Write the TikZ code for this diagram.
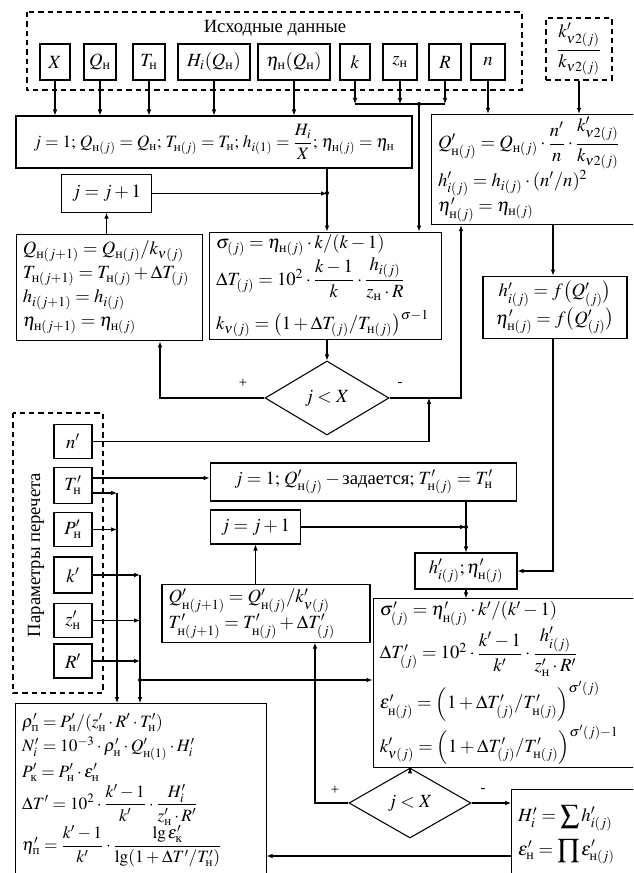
\documentclass[tikz,border=0pt]{standalone}
\usepackage{amsmath}
\usepackage{mathptmx}
\usepackage{fontspec}
\setmainfont{Liberation Serif}
\usetikzlibrary{arrows.meta,shapes.geometric,calc}
\newcommand{\hn}{\text{н}}
\newcommand{\hp}{\text{п}}
\newcommand{\hk}{\text{к}}
\tikzset{
  every node/.style={font=\fontsize{14}{17}\selectfont},
  box/.style={draw, line width=0.8pt, inner sep=2pt, align=center},
  sz/.style 2 args={minimum width=#1, minimum height=#2},
  lbox/.style={draw, line width=0.8pt, inner xsep=5pt, inner ysep=2pt, align=left},
  dbox/.style={draw, line width=0.9pt, dash pattern=on 4pt off 3pt},
  arr/.style={line width=0.8pt, -{Latex[length=4.5pt,width=3.5pt]}},
  ln/.style={line width=0.8pt},
  dec/.style={draw, diamond, line width=0.8pt, inner sep=0pt},
  sgn/.style={font=\fontsize{11}{13}\selectfont},
  small/.style={font=\fontsize{13}{15.5}\selectfont},
  jdot/.style={circle, fill, inner sep=0pt, minimum size=3pt}
}
\begin{document}
\begin{tikzpicture}[x=0.75pt,y=-0.75pt]
\useasboundingbox (0,0) rectangle (633,873);
\clip (0,0) rectangle (633,873);
\fill[white] (0,0) rectangle (633,873);

% ---------- source data ----------
\draw[dbox] (27,12) rectangle (522,90);
\node (title) at (275,28) {Исходные данные};
\node[box, sz={22.5pt}{27pt}] (bX) at (55,62) {$X$};
\node[box, sz={24pt}{27pt}] (bQ) at (100,62) {$Q_\hn$};
\node[box, sz={24pt}{27pt}] (bT) at (149,62) {$T_\hn$};
\node[box, sz={54pt}{27pt}] (bH) at (214,62) {$H_i(Q_\hn)$};
\node[box, sz={54pt}{27pt}] (bE) at (294,62) {$\eta_\hn(Q_\hn)$};
\node[box, sz={22.5pt}{27pt}] (bk) at (355,62) {$k$};
\node[box, sz={25.5pt}{27pt}] (bz) at (400,62) {$z_\hn$};
\node[box, sz={24pt}{27pt}] (bR) at (445,62) {$R$};
\node[box, sz={25.5pt}{27pt}] (bn) at (488,62) {$n$};
\node[dbox, align=center, sz={49.5pt}{46.5pt}, inner sep=1pt] (kk) at (579,49) {$\dfrac{k'_{\nu2(j)}}{k_{\nu2(j)}}$};

% ---------- first chain ----------
\node[box, small, sz={297pt}{39pt}] (j1) at (214,142) {$j=1;\, Q_{\hn(j)}=Q_\hn;\, T_{\hn(j)}=T_\hn;\, h_{i(1)}=\dfrac{H_i}{X};\, \eta_{\hn(j)}=\eta_\hn$};
\node[box, sz={68pt}{28pt}] (jp1) at (106.5,193.5) {$j=j+1$};
\node[lbox, text width=130pt, minimum height=80pt] (qn1) at (109.5,287.5) {%
$Q_{\hn(j+1)}=Q_{\hn(j)}/k_{\nu(j)}$\\[1pt]
$T_{\hn(j+1)}=T_{\hn(j)}+\Delta T_{(j)}$\\[1pt]
$h_{i(j+1)}=h_{i(j)}$\\[1pt]
$\eta_{\hn(j+1)}=\eta_{\hn(j)}$};
\node[lbox, text width=164pt, minimum height=79.5pt] (al) at (325.5,286) {%
$\sigma_{(j)}=\eta_{\hn(j)}\cdot k/(k-1)$\\
$\Delta T_{(j)}=10^2\cdot\dfrac{k-1}{k}\cdot\dfrac{h_{i(j)}}{z_\hn\cdot R}$\\[6pt]
$k_{\nu(j)}=\left(1+\Delta T_{(j)}/T_{\hn(j)}\right)^{\sigma-1}$};
\node[lbox, text width=150pt, minimum height=79pt] (qp) at (538,169.5) {%
$Q'_{\hn(j)}=Q_{\hn(j)}\cdot\dfrac{n'}{n}\cdot\dfrac{k'_{\nu2(j)}}{k_{\nu2(j)}}$\\
$h'_{i(j)}=h_{i(j)}\cdot(n'/n)^2$\\
$\eta'_{\hn(j)}=\eta_{\hn(j)}$};
\node[box, sz={108pt}{47pt}] (hb) at (555,307.5) {$h'_{i(j)}=f\bigl(Q'_{(j)}\bigr)$\\ $\eta'_{\hn(j)}=f\bigl(Q'_{(j)}\bigr)$};
\node[dec, minimum width=93pt, minimum height=55.5pt] (d1) at (327,398) {$j<X$};
\node[sgn] at (243,383) {+};
\node[sgn] at (400,384) {-};

% ---------- recalculation parameters ----------
\draw[dbox] (13,413) rectangle (103,693);
\node[rotate=90] (ptitle) at (36,555) {Параметры перечета};
\node[box, sz={28.5pt}{26pt}] (np) at (73,441.5) {$n'$};
\node[box, sz={28.5pt}{27.5pt}] (tp) at (73,485.5) {$T'_\hn$};
\node[box, sz={28.5pt}{26pt}] (pp) at (73,529.5) {$P'_\hn$};
\node[box, sz={28.5pt}{27pt}] (kp) at (73,575) {$k'$};
\node[box, sz={28.5pt}{26pt}] (zp) at (73,620.5) {$z'_\hn$};
\node[box, sz={28.5pt}{25.5pt}] (rp) at (73,661) {$R'$};

% ---------- second chain ----------
\node[box, sz={230pt}{28.5pt}] (j1p) at (363.5,482) {$j=1;\,Q'_{\hn(j)}-{}$задается$;\,T'_{\hn(j)}=T'_\hn$};
\node[box, sz={68pt}{25.5pt}] (jp1p) at (255.5,527) {$j=j+1$};
\node[box, sz={76.5pt}{27pt}] (ke) at (466,571) {$h'_{i(j)};\eta'_{\hn(j)}$};
\node[lbox, text width=146pt, minimum height=43pt] (qj) at (266,613.5) {%
$Q'_{\hn(j+1)}=Q'_{\hn(j)}/k'_{\nu(j)}$\\
$T'_{\hn(j+1)}=T'_{\hn(j)}+\Delta T'_{(j)}$};
\node[lbox, text width=190pt, minimum height=108pt] (sg) at (506.5,683) {%
$\sigma'_{(j)}=\eta'_{\hn(j)}\cdot k'/(k'-1)$\\
$\Delta T'_{(j)}=10^2\cdot\dfrac{k'-1}{k'}\cdot\dfrac{h'_{i(j)}}{z'_\hn\cdot R'}$\\[3pt]
$\varepsilon'_{\hn(j)}=\left(1+\Delta T'_{(j)}/T'_{\hn(j)}\right)^{\sigma'(j)}$\\[2pt]
$k'_{\nu(j)}=\left(1+\Delta T'_{(j)}/T'_{\hn(j)}\right)^{\sigma'(j)-1}$};
\node[dec, minimum width=91.5pt, minimum height=52.5pt] (d2) at (410,803) {$j<X$};
\node[sgn] at (335,790) {+};
\node[sgn] at (483,790) {-};
\node[lbox, text width=90pt, minimum height=68pt, anchor=north west] (wb) at (511,789) {%
$H'_i=\displaystyle\sum h'_{i(j)}$\\[5pt]
$\varepsilon'_\hn=\displaystyle\prod \varepsilon'_{\hn(j)}$};
\node[lbox, small, text width=178pt, minimum height=130pt, inner ysep=1pt, anchor=north west] (rho) at (15,703) {%
$\rho'_\hp=P'_\hn/(z'_\hn\cdot R'\cdot T'_\hn)$\\[3pt]
$N'_i=10^{-3}\cdot\rho'_\hn\cdot Q'_{\hn(1)}\cdot H'_i$\\[1pt]
$P'_\hk=P'_\hn\cdot\varepsilon'_\hn$\\[1pt]
$\Delta T'=10^2\cdot\dfrac{k'-1}{k'}\cdot\dfrac{H'_i}{z'_\hn\cdot R'}$\\[-1pt]
$\eta'_\hp=\dfrac{k'-1}{k'}\cdot\dfrac{\lg\varepsilon'_\hk}{\lg(1+\Delta T'/T'_\hn)}$};

% ---------- connectors: top ----------
\foreach \b in {bX,bQ,bT,bH,bE} \draw[arr] (\b.south) -- (\b.south |- j1.north);
\coordinate (bus) at (419,104);
\foreach \b in {bk,bz,bR} \draw[arr] (\b.south) -- (\b.south |- bus);
\draw[ln] (bk.south |- bus) -- (bR.south |- bus);
\draw[arr] (bus) -- (bus |- al.north);
\node[jdot] at (bus) {};
\draw[arr] (bn.south) -- (bn.south |- qp.north);
\draw[arr] (kk.south) -- (kk.south |- qp.north);
\coordinate (m1) at (327,193);
\draw[arr] (j1.south -| m1) -- (m1 |- al.north);
\draw[arr] (jp1.east) -- (jp1.east -| m1);
\node[jdot] at (m1) {};
\draw[arr] (jp1.south |- qn1.north) -- (jp1.south);
\draw[arr] (d1.north |- al.south) -- (d1.north);
\coordinate (c1) at (160,398);
\draw[arr] (d1.west) -- (c1) -- (c1 |- qn1.south);
\coordinate (c2) at (461,398);
\draw[arr] (d1.east) -- (c2) -- (c2 |- qp.south);
\coordinate (c3) at (429,398);
\draw[arr] (np.east) -- (np.east -| c3) -- (c3);
\coordinate (c4) at (553,571);
\draw[arr] (c4 |- qp.south) -- (c4 |- hb.north);
\draw[arr] (c4 |- hb.south) -- (c4) -- (ke.east);

% ---------- connectors: parameters ----------
\coordinate (v1) at (117,703);
\coordinate (v2) at (140,703);
\coordinate (yT1) at (0,478);
\coordinate (yT2) at (0,493);
\draw[arr] (tp.east |- yT1) -- (j1p.west |- yT1);
\draw[arr] (tp.east |- yT2) -- (v1 |- yT2);
\draw[arr] (pp.east) -- (pp.east -| v1);
\draw[arr] (v1 |- yT2) -- (v1 |- rho.north);
\draw[arr] (kp.east) -- (kp.east -| v2);
\draw[arr] (zp.east) -- (zp.east -| v2);
\draw[arr] (rp.east) -- (rp.east -| v2);
\draw[arr] (v2 |- kp.east) -- (v2 |- rho.north);
\coordinate (j2) at (140,680);
\draw[arr] (j2) -- (j2 -| sg.west);
\node[jdot] at (j2) {};

% ---------- connectors: second chain ----------
\coordinate (x466) at (466,0);
\draw[arr] (j1p.south -| x466) -- (x466 |- ke.north);
\draw[arr] (jp1p.east) -- (jp1p.east -| x466);
\node[jdot] at (jp1p.east -| x466) {};
\draw[arr] (jp1p.south |- qj.north) -- (jp1p.south);
\draw[arr] (ke.south) -- (ke.south |- sg.north);
\draw[arr] (d2.north |- sg.south) -- (d2.north);
\coordinate (c5) at (315,803);
\draw[arr] (d2.west) -- (c5) -- (c5 |- qj.south);
\draw[arr] (d2.east) -- (d2.east -| wb.west);
\coordinate (y858) at (0,856);
\draw[arr] (wb.west |- y858) -- (rho.east |- y858);
\end{tikzpicture}
\end{document}
